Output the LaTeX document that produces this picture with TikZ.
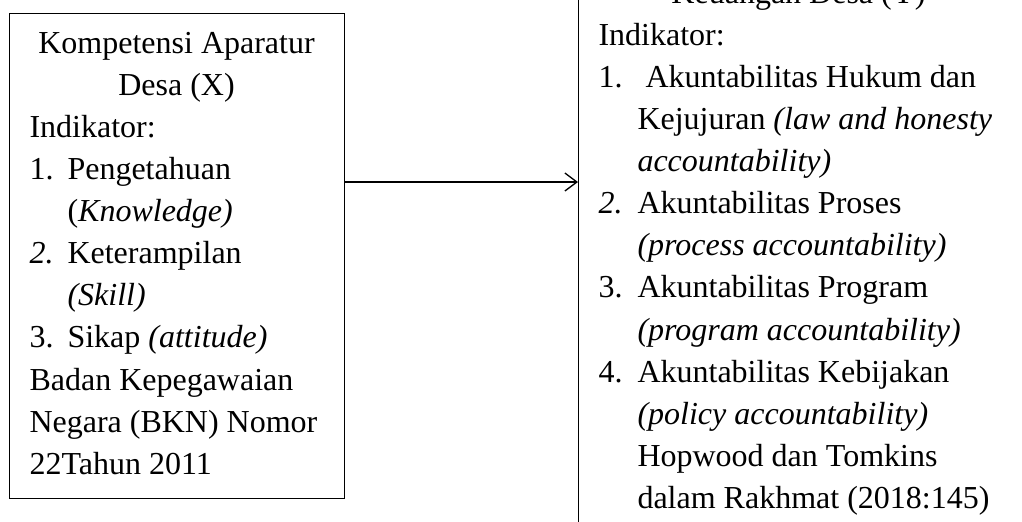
\documentclass[tikz,border=0pt]{standalone}
\usepackage{fontspec}
\setmainfont{Liberation Serif}
\usetikzlibrary{arrows.meta}

\newcommand{\nomor}[2][14.25pt]{\makebox[#1][l]{#2}}

\begin{document}
\begin{tikzpicture}[
    x=0.375pt, y=-0.375pt,
    box/.style={draw, line width=0.5pt, inner sep=0pt, anchor=north west},
    txt/.style={inner sep=0pt, anchor=base west, font=\fontsize{12}{15.8}\selectfont},
    arr/.style={-{Straight Barb[length=4.5pt, width=6.75pt]}, line width=0.5pt}
]
    \clip (0,0) rectangle (1022,521);

    % Kompetensi (X)
    \node[box, minimum width=125.625pt, minimum height=181.875pt] (kompetensi) at (9,13) {};
    \node[txt] (kompetensi text) at (29,53) {\parbox[t]{110.25pt}{%
        \centerline{Kompetensi Aparatur}
        \centerline{Desa (X)}
        \leftline{Indikator:}
        \leftline{\nomor{1.}Pengetahuan}
        \leftline{\nomor{}(\textit{Knowledge)}}
        \leftline{\nomor{\textit{2.}}Keterampilan}
        \leftline{\nomor{}\textit{(Skill)}}
        \leftline{\nomor{3.}Sikap \textit{(attitude)}}
        \leftline{Badan Kepegawaian}
        \leftline{Negara (BKN) Nomor}
        \leftline{22Tahun 2011}}};

    % Akuntabilitas (Y)
    \node[box, minimum width=180pt, minimum height=210pt] (akuntabilitas) at (578,-20) {};
    \node[txt] (akuntabilitas text) at (598,3) {\parbox[t]{150pt}{%
        \centerline{Keuangan Desa (Y)}
        \leftline{Indikator:}
        \leftline{\nomor[14.625pt]{1.}\ Akuntabilitas Hukum dan}
        \leftline{\nomor[14.625pt]{}Kejujuran \textit{(law and honesty}}
        \leftline{\nomor[14.625pt]{}\textit{accountability)}}
        \leftline{\nomor[14.625pt]{\textit{2.}}Akuntabilitas Proses}
        \leftline{\nomor[14.625pt]{}\textit{(process accountability)}}
        \leftline{\nomor[14.625pt]{3.}Akuntabilitas Program}
        \leftline{\nomor[14.625pt]{}\textit{(program accountability)}}
        \leftline{\nomor[14.625pt]{4.}Akuntabilitas Kebijakan}
        \leftline{\nomor[14.625pt]{}\textit{(policy accountability)}}
        \leftline{\nomor[14.625pt]{}Hopwood dan Tomkins}
        \leftline{\nomor[14.625pt]{}dalam Rakhmat (2018:145)}}};

    % Connections
    \draw[arr] (kompetensi.east |- 0,182) -- (akuntabilitas.west |- 0,182);
\end{tikzpicture}
\end{document}
